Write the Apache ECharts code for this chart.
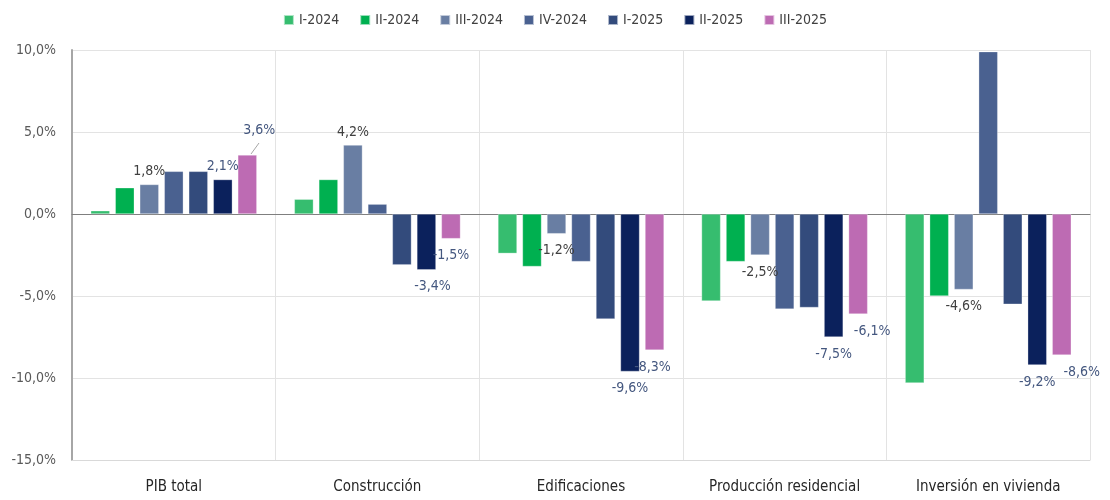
<!DOCTYPE html>
<html>
<head>
<meta charset="utf-8">
<script src="https://cdn.jsdelivr.net/npm/echarts@6/dist/echarts.min.js"></script>
<style>
  html, body { margin: 0; padding: 0; background: #fff; }
  #chart { width: 1110px; height: 500px; }
</style>
</head>
<body>
<div id="chart"></div>
<script>
// categorias y valores (% variacion)
const categories = ['PIB total', 'Construcción', 'Edificaciones', 'Producción residencial', 'Inversión en vivienda'];
const seriesNames = ['I-2024', 'II-2024', 'III-2024', 'IV-2024', 'I-2025', 'II-2025', 'III-2025'];
const i2024 = [0.2, 0.9, -2.4, -5.3, -10.3];
const ii2024 = [1.6, 2.1, -3.2, -2.9, -5.0];
const iii2024 = [1.8, 4.2, -1.2, -2.5, -4.6];
const iv2024 = [2.6, 0.6, -2.9, -5.8, 9.9];
const i2025 = [2.6, -3.1, -6.4, -5.7, -5.5];
const ii2025 = [2.1, -3.4, -9.6, -7.5, -9.2];
const iii2025 = [3.6, -1.5, -8.3, -6.1, -8.6];
const yTicks = [-15, -10, -5, 0, 5, 10];

const colors = ['#36bd6f', '#00b050', '#697ea3', '#4a6190', '#334b7c', '#0b215c', '#bd6bb3'];
const allData = [i2024, ii2024, iii2024, iv2024, i2025, ii2025, iii2025];
const FONT = '"Liberation Sans Narrow", "DejaVu Sans Condensed", Roboto, sans-serif';

const fmt = v => v.toFixed(1).replace('.', ',') + '%';

// etiquetas solo en III-2024, II-2025 y III-2025
const labelColor = { 2: '#404040', 5: '#44577f', 6: '#44577f' };
const labelOffsets = {
  5: [[0, 0], [6, 0], [0, 0], [0, 0], [0, 0]],
  6: [[12, -12], [0, 0], [-2, 0], [14, 0], [20, 0]]
};

function buildData(idx) {
  const vals = allData[idx];
  if (!(idx in labelColor)) return vals;
  return vals.map((v, j) => {
    const off = labelOffsets[idx] ? labelOffsets[idx][j] : [0, 0];
    return {
      value: v,
      label: {
        show: true,
        position: v >= 0 ? 'top' : 'bottom',
        distance: v >= 0 ? 6 : 10,
        offset: off,
        formatter: p => fmt(p.value),
        color: labelColor[idx],
        fontFamily: FONT,
        fontSize: 14
      }
    };
  });
}

const series = seriesNames.map((name, i) => ({
  name: name,
  type: 'bar',
  barWidth: 19,
  barGap: '29%',
  itemStyle: { color: colors[i], borderColor: 'rgba(255,255,255,0.6)', borderWidth: 0.5 },
  data: buildData(i)
}));

// linea guia de la etiqueta 3,6%
series[6].markLine = {
  silent: true,
  symbol: 'none',
  label: { show: false },
  lineStyle: { color: '#a6a6a6', type: 'solid', width: 1 },
  data: [[{ x: 251, y: 154 }, { x: 259, y: 143 }]]
};

const chart = echarts.init(document.getElementById('chart'));
chart.setOption({
  animation: false,
  textStyle: { fontFamily: FONT },
  legend: {
    top: 8,
    left: 'center',
    itemWidth: 10,
    itemHeight: 10,
    itemGap: 20,
    icon: 'rect',
    textStyle: { fontFamily: FONT, fontSize: 14, color: '#404040' },
    data: seriesNames
  },
  grid: { left: 72, right: 20, top: 50, bottom: 40 },
  xAxis: [
    {
      type: 'category',
      data: categories,
      position: 'bottom',
      axisLine: { onZero: false, lineStyle: { color: '#d9d9d9' } },
      axisTick: { show: false },
      splitLine: { show: true, lineStyle: { color: '#e3e3e3' } },
      axisLabel: { margin: 20, fontSize: 15, color: '#262626', fontFamily: FONT }
    },
    {
      type: 'category',
      data: categories,
      axisLine: { onZero: true, lineStyle: { color: '#7f7f7f', width: 1 } },
      axisTick: { show: false },
      axisLabel: { show: false },
      splitLine: { show: false }
    }
  ],
  yAxis: {
    type: 'value',
    min: yTicks[0],
    max: yTicks[yTicks.length - 1],
    interval: 5,
    axisLine: { show: true, lineStyle: { color: '#a6a6a6', width: 2 } },
    axisTick: { show: false },
    splitLine: { lineStyle: { color: '#e3e3e3' } },
    axisLabel: { formatter: v => fmt(v), fontSize: 14, color: '#595959', margin: 16, fontFamily: FONT }
  },
  series: series
});
</script>
</body>
</html>
